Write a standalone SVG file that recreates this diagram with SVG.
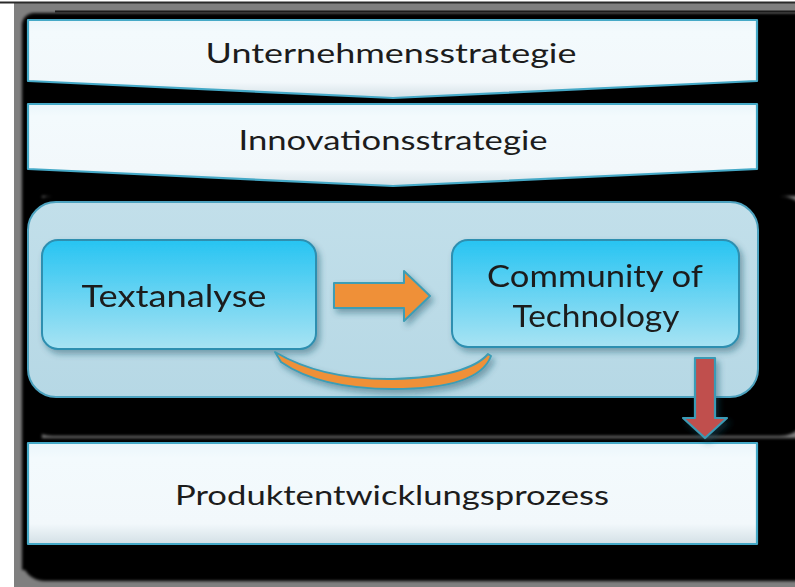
<svg xmlns="http://www.w3.org/2000/svg" width="795" height="587" viewBox="0 0 795 587">
<defs>
<style>
.lbl{font-family:Lato,"Open Sans","Liberation Sans",sans-serif;fill:#1c1c1c;text-anchor:middle}
.big{font-size:27px}
.mid{font-size:30px}
.chev{fill:url(#gChev);stroke:#45a9c7;stroke-width:2.2;stroke-linejoin:round}
.inner{fill:url(#gInner);stroke:#2d8fb0;stroke-width:2}
.arrowO{fill:#ef9039;stroke:#3d9db5;stroke-width:2;stroke-linejoin:round}
.arrowR{fill:#c0504d;stroke:#3a9ab5;stroke-width:2.2;stroke-linejoin:round}
</style>
<linearGradient id="gChev" x1="0" y1="0" x2="0" y2="1">
<stop offset="0" stop-color="#eaf6fb"/>
<stop offset="0.15" stop-color="#f3fafd"/>
<stop offset="0.8" stop-color="#f2f8fb"/>
<stop offset="1" stop-color="#d3e0e6"/>
</linearGradient>
<linearGradient id="gInner" x1="0" y1="0" x2="0" y2="1">
<stop offset="0" stop-color="#27c4f2"/>
<stop offset="1" stop-color="#a8e3f3"/>
</linearGradient>
<linearGradient id="gBig" x1="0" y1="0" x2="0" y2="1">
<stop offset="0" stop-color="#c2dfea"/>
<stop offset="1" stop-color="#b6d8e5"/>
</linearGradient>
<filter id="blur" x="-5%" y="-5%" width="110%" height="110%"><feGaussianBlur stdDeviation="1.5"/></filter>
<filter id="ds" x="-10%" y="-10%" width="125%" height="130%"><feDropShadow dx="3" dy="4" stdDeviation="3" flood-color="#1f4f60" flood-opacity="0.45"/></filter>
</defs>

<g id="background">
<rect x="0" y="0" width="795" height="587" fill="#ffffff"/>
<rect x="14" y="3" width="781" height="584" fill="#7f7f7f"/>
<rect x="0" y="1.5" width="795" height="2" fill="#2a2a2a"/>
<g filter="url(#blur)" fill="#000">
<rect x="22" y="13" width="800" height="94" rx="12"/>
<rect x="22" y="98" width="800" height="98" rx="6"/>
<rect x="22" y="196" width="788" height="240" rx="30"/>
<rect x="22" y="438" width="800" height="143" rx="22"/>
<rect x="22" y="30" width="20" height="540"/>
</g>
<rect x="55" y="10.5" width="740" height="2" fill="#1a1a1a"/>
</g>

<g id="unternehmensstrategie">
<path class="chev" d="M28,20 L757,20 L757,81 L393,98 L28,81 Z"/>
<text class="lbl big" x="391" y="63" textLength="371" lengthAdjust="spacingAndGlyphs">Unternehmensstrategie</text>
</g>

<g id="innovationsstrategie">
<path class="chev" d="M28,104 L757,104 L757,169 L393,186 L28,169 Z"/>
<text class="lbl big" x="393" y="150" textLength="309" lengthAdjust="spacingAndGlyphs">Innovationsstrategie</text>
</g>

<g id="innovationsbereich">
<rect x="28" y="202" width="730" height="195" rx="28" fill="url(#gBig)" stroke="#4da2bf" stroke-width="2"/>
</g>

<g id="textanalyse" filter="url(#ds)">
<rect class="inner" x="42" y="240" width="274" height="109" rx="16"/>
<text class="lbl mid" x="174" y="307" textLength="185" lengthAdjust="spacingAndGlyphs">Textanalyse</text>
</g>

<g id="community" filter="url(#ds)">
<rect class="inner" x="452" y="240" width="287" height="107" rx="16"/>
<text class="lbl mid" x="595" y="287" textLength="216" lengthAdjust="spacingAndGlyphs">Community of</text>
<text class="lbl mid" x="596" y="327" textLength="167" lengthAdjust="spacingAndGlyphs">Technology</text>
</g>

<g id="produktentwicklungsprozess">
<rect class="chev" x="28" y="443" width="729" height="101"/>
<text class="lbl big" x="392" y="505" textLength="434" lengthAdjust="spacingAndGlyphs">Produktentwicklungsprozess</text>
</g>

<g id="connectors" filter="url(#ds)">
<path class="arrowO" d="M334,283 L404,283 L404,271 L430,296 L404,321 L404,308 L334,308 Z"/>
<path class="arrowO" d="M275,352 Q322,380 393,379 Q468,377 488,354 L491,356 Q479,389 393,389 Q320,389 281,362 Z"/>
<path class="arrowR" d="M695,358 L715,358 L715,418 L727,418 L705,438 L683,418 L695,418 Z"/>
</g>
</svg>
